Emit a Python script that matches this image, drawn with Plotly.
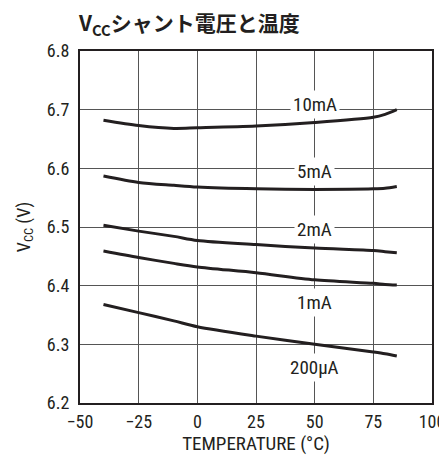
import plotly.graph_objects as go

temperature = [-40, -25, -10, 0, 25, 50, 75, 80, 85]
v_10mA = [6.682, 6.673, 6.668, 6.669, 6.672, 6.678, 6.687, 6.692, 6.700]
v_5mA = [6.587, 6.576, 6.571, 6.568, 6.565, 6.564, 6.565, 6.566, 6.569]
v_2mA = [6.503, 6.493, 6.484, 6.477, 6.470, 6.464, 6.460, 6.458, 6.456]
v_1mA = [6.459, 6.448, 6.438, 6.432, 6.422, 6.410, 6.404, 6.402, 6.401]
v_200uA = [6.368, 6.354, 6.340, 6.330, 6.314, 6.300, 6.287, 6.284, 6.280]

series_names = ["10mA", "5mA", "2mA", "1mA", "200µA"]
series_values = [v_10mA, v_5mA, v_2mA, v_1mA, v_200uA]
label_x = [50, 50, 50, 50, 50]
label_y = [6.709, 6.594, 6.496, 6.371, 6.260]

x_ticks = [-50, -25, 0, 25, 50, 75, 100]
x_tick_text = ["\u221250", "\u221225", "0", "25", "50", "75", "100"]
y_ticks = [6.2, 6.3, 6.4, 6.5, 6.6, 6.7, 6.8]

font_narrow = "Liberation Sans Narrow, Arial Narrow, Roboto Condensed, Roboto, sans-serif"
ink = "#231f20"

# page body has an 8px default margin; figure is sized to fit the window
W, H = 439, 447

fig = go.Figure()
for name, vals in zip(series_names, series_values):
    fig.add_trace(go.Scatter(x=temperature, y=vals, mode="lines", name=name,
                             line=dict(color=ink, width=3, shape="spline", smoothing=0.8),
                             showlegend=False, hoverinfo="skip"))

for name, lx, ly in zip(series_names, label_x, label_y):
    fig.add_annotation(x=lx, y=ly, text=name, showarrow=False, bgcolor="white",
                       borderpad=2, font=dict(family=font_narrow, size=19, color=ink))

fig.update_layout(
    width=W, height=H,
    margin=dict(l=72, r=15, t=43, b=52),
    paper_bgcolor="white", plot_bgcolor="white",
    title=dict(text="<b>V<sub>CC</sub>シャント電圧と温度</b>", x=71/W, xanchor="left",
               y=1 - 16/H, yanchor="middle",
               font=dict(family="Noto Sans CJK JP, sans-serif", size=21, color=ink)),
    xaxis=dict(range=[-50, 100], tickvals=x_ticks, ticktext=x_tick_text,
               automargin=False,
               showgrid=True, gridcolor="#555555", gridwidth=1,
               showline=True, linecolor=ink, linewidth=2, mirror=True,
               ticks="", zeroline=False, ticklabelstandoff=1,
               tickfont=dict(family=font_narrow, size=18, color=ink),
               title=dict(text="TEMPERATURE (°C)", standoff=4,
                          font=dict(family=font_narrow, size=19, color=ink))),
    yaxis=dict(range=[6.2, 6.8], tickvals=y_ticks, tickformat=".1f",
               automargin=False,
               showgrid=True, gridcolor="#555555", gridwidth=1,
               showline=True, linecolor=ink, linewidth=2, mirror=True,
               ticks="", zeroline=False, ticklabelstandoff=5,
               tickfont=dict(family=font_narrow, size=18, color=ink),
               title=dict(text="V<sub>CC</sub> (V)", standoff=12,
                          font=dict(family=font_narrow, size=18, color=ink))),
)

fig.write_html("out.html")
